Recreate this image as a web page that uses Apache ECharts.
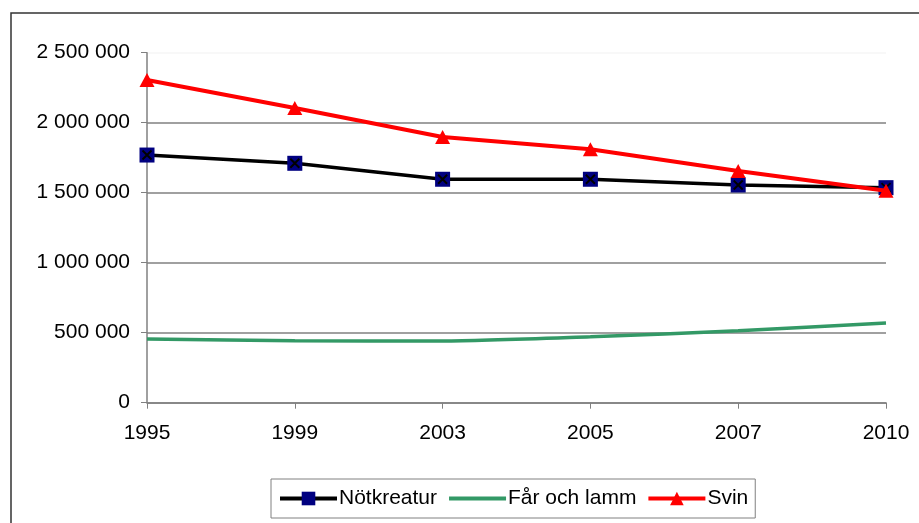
<!DOCTYPE html>
<html>
<head>
<meta charset="utf-8">
<script src="https://cdn.jsdelivr.net/npm/echarts@6/dist/echarts.min.js"></script>
<style>
  html, body { margin: 0; padding: 0; background: #fff; }
  #main { width: 919px; height: 523px; }
</style>
</head>
<body>
<div id="main"></div>
<script>
var years = ['1995', '1999', '2003', '2005', '2007', '2010'];
var notkreatur = [1769000, 1710000, 1596000, 1596000, 1555000, 1536000];
var farOchLamm = [455000, 443000, 441000, 471000, 514000, 569000];
var svin = [2305000, 2105000, 1898000, 1810000, 1655000, 1514000];
var yTicks = [0, 500000, 1000000, 1500000, 2000000, 2500000];

var font = 'Liberation Sans, Arial, sans-serif';

function fmt(v) {
	// tusental med mellanslag
	return String(v).replace(/\B(?=(\d{3})+(?!\d))/g, ' ');
}

var myChart = echarts.init(document.getElementById('main'));
var option = {
	animation: false,
	backgroundColor: '#fff',
	graphic: [{
		type: 'rect',
		shape: { x: 11, y: 13, width: 1000, height: 600 },
		style: { fill: 'none', stroke: '#333', lineWidth: 1.5 },
		silent: true
	}],
	grid: { left: 147, right: 33, top: 52.7, bottom: 120.3 },
	legend: {
		data: [
			{ name: 'Nötkreatur' },
			{ name: 'Får och lamm', itemStyle: { opacity: 0 } },
			{ name: 'Svin' }
		],
		left: 271,
		top: 479,
		orient: 'horizontal',
		padding: [9, 7],
		itemGap: 10,
		itemWidth: 57,
		itemHeight: 17,
		lineStyle: { width: 4 },
		borderColor: '#808080',
		borderWidth: 1,
		textStyle: { fontFamily: font, fontSize: 21, color: '#000', padding: [0, 0, 0, -3] }
	},
	xAxis: {
		type: 'category',
		data: years,
		boundaryGap: false,
		axisLine: { lineStyle: { color: '#808080', width: 1.5 } },
		axisTick: { show: true, length: 6, lineStyle: { color: '#808080' } },
		axisLabel: { margin: 20, fontFamily: font, fontSize: 21, color: '#000' }
	},
	yAxis: {
		type: 'value',
		min: yTicks[0],
		max: yTicks[yTicks.length - 1],
		interval: 500000,
		axisLine: { show: true, lineStyle: { color: '#808080', width: 1.5 } },
		axisTick: { show: true, length: 6, lineStyle: { color: '#808080' } },
		axisLabel: { margin: 17, fontFamily: font, fontSize: 21, color: '#000', formatter: fmt },
		splitLine: { show: true, lineStyle: { color: ['#808080', '#808080', '#808080', '#808080', '#808080', '#f6f6f6'], width: 1.5 } }
	},
	series: [
		{
			name: 'Nötkreatur',
			type: 'line',
			data: notkreatur,
			symbol: 'rect',
			symbolSize: 15,
			showAllSymbol: true,
			itemStyle: { color: '#000080' },
			lineStyle: { color: '#000', width: 3.5 },
			z: 2
		},
		{
			name: 'x',
			type: 'line',
			data: notkreatur,
			symbol: 'path://M0,0 L10,10 M10,0 L0,10',
			symbolSize: 9,
			itemStyle: { color: 'transparent', borderColor: '#000', borderWidth: 2 },
			lineStyle: { width: 0 },
			silent: true,
			z: 3
		},
		{
			name: 'Får och lamm',
			type: 'line',
			data: farOchLamm,
			smooth: 0.25,
			showSymbol: false,
			symbol: 'none',
			itemStyle: { color: '#339966' },
			lineStyle: { color: '#339966', width: 3.5 },
			z: 4
		},
		{
			name: 'Svin',
			type: 'line',
			data: svin,
			symbol: 'triangle',
			symbolSize: [15, 14],
			itemStyle: { color: '#ff0000' },
			lineStyle: { color: '#ff0000', width: 4 },
			z: 5
		}
	]
};
myChart.setOption(option);
</script>
</body>
</html>
